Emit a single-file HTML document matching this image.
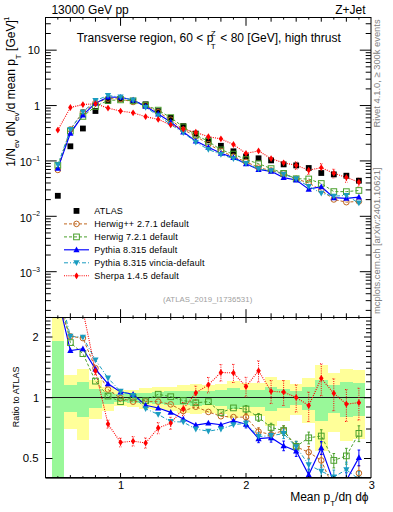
<!DOCTYPE html><html><head><meta charset="utf-8"><style>html,body{margin:0;padding:0;background:#fff;}svg{display:block;}text{font-family:"Liberation Sans",sans-serif;}</style></head><body>
<svg width="393" height="512" viewBox="0 0 393 512">
<defs><clipPath id="ct"><rect x="45.5" y="17.5" width="325.5" height="300.0"/></clipPath><clipPath id="cr"><rect x="45.5" y="317.5" width="325.5" height="160.0"/></clipPath></defs>
<g clip-path="url(#cr)" shape-rendering="crispEdges">
<rect x="51.55" y="300.00" width="12.55" height="700.00" fill="#ffff99"/>
<rect x="51.55" y="341.00" width="12.55" height="268.55" fill="#99f899"/>
<rect x="64.10" y="374.70" width="12.55" height="54.41" fill="#ffff99"/>
<rect x="64.10" y="385.40" width="12.55" height="26.73" fill="#99f899"/>
<rect x="76.64" y="369.20" width="12.55" height="71.17" fill="#ffff99"/>
<rect x="76.64" y="382.00" width="12.55" height="34.96" fill="#99f899"/>
<rect x="89.19" y="380.40" width="12.55" height="39.00" fill="#ffff99"/>
<rect x="89.19" y="388.50" width="12.55" height="19.59" fill="#99f899"/>
<rect x="101.73" y="386.50" width="12.55" height="24.16" fill="#ffff99"/>
<rect x="101.73" y="391.60" width="12.55" height="12.76" fill="#99f899"/>
<rect x="114.28" y="390.10" width="12.55" height="16.03" fill="#ffff99"/>
<rect x="114.28" y="393.70" width="12.55" height="8.30" fill="#99f899"/>
<rect x="126.82" y="389.60" width="12.55" height="17.14" fill="#ffff99"/>
<rect x="126.82" y="393.20" width="12.55" height="9.35" fill="#99f899"/>
<rect x="139.37" y="387.80" width="12.55" height="21.18" fill="#ffff99"/>
<rect x="139.37" y="392.50" width="12.55" height="10.83" fill="#99f899"/>
<rect x="151.91" y="387.10" width="12.55" height="22.78" fill="#ffff99"/>
<rect x="151.91" y="391.90" width="12.55" height="12.12" fill="#99f899"/>
<rect x="164.46" y="386.50" width="12.55" height="24.16" fill="#ffff99"/>
<rect x="164.46" y="391.40" width="12.55" height="13.20" fill="#99f899"/>
<rect x="177.00" y="385.10" width="12.55" height="27.44" fill="#ffff99"/>
<rect x="177.00" y="391.00" width="12.55" height="14.06" fill="#99f899"/>
<rect x="189.55" y="384.30" width="12.55" height="29.34" fill="#ffff99"/>
<rect x="189.55" y="390.50" width="12.55" height="15.15" fill="#99f899"/>
<rect x="202.09" y="385.10" width="12.55" height="27.44" fill="#ffff99"/>
<rect x="202.09" y="391.00" width="12.55" height="14.06" fill="#99f899"/>
<rect x="214.64" y="384.30" width="12.55" height="29.34" fill="#ffff99"/>
<rect x="214.64" y="390.00" width="12.55" height="16.25" fill="#99f899"/>
<rect x="227.18" y="381.00" width="12.55" height="37.48" fill="#ffff99"/>
<rect x="227.18" y="387.80" width="12.55" height="21.18" fill="#99f899"/>
<rect x="239.73" y="382.60" width="12.54" height="33.48" fill="#ffff99"/>
<rect x="239.73" y="389.70" width="12.54" height="16.91" fill="#99f899"/>
<rect x="252.27" y="382.60" width="12.54" height="33.48" fill="#ffff99"/>
<rect x="252.27" y="389.70" width="12.54" height="16.91" fill="#99f899"/>
<rect x="264.82" y="376.50" width="12.54" height="49.36" fill="#ffff99"/>
<rect x="264.82" y="386.60" width="12.54" height="23.93" fill="#99f899"/>
<rect x="277.36" y="379.50" width="12.54" height="41.33" fill="#ffff99"/>
<rect x="277.36" y="388.70" width="12.54" height="19.14" fill="#99f899"/>
<rect x="289.91" y="383.60" width="12.54" height="31.03" fill="#ffff99"/>
<rect x="289.91" y="390.70" width="12.54" height="14.72" fill="#99f899"/>
<rect x="302.45" y="377.90" width="12.54" height="45.55" fill="#ffff99"/>
<rect x="302.45" y="387.30" width="12.54" height="22.32" fill="#99f899"/>
<rect x="315.00" y="364.90" width="12.54" height="86.00" fill="#ffff99"/>
<rect x="315.00" y="379.70" width="12.54" height="40.81" fill="#99f899"/>
<rect x="327.54" y="373.40" width="12.54" height="58.18" fill="#ffff99"/>
<rect x="327.54" y="384.60" width="12.54" height="28.63" fill="#99f899"/>
<rect x="340.09" y="368.90" width="12.54" height="72.15" fill="#ffff99"/>
<rect x="340.09" y="381.90" width="12.54" height="35.21" fill="#99f899"/>
<rect x="352.63" y="369.80" width="12.54" height="69.23" fill="#ffff99"/>
<rect x="352.63" y="382.80" width="12.54" height="32.99" fill="#99f899"/>
</g>
<line x1="45.5" y1="397.5" x2="371.0" y2="397.5" stroke="#1a1a1a" stroke-width="1"/>
<g clip-path="url(#ct)">
<path d="M57.82,169.92L70.37,129.45L82.91,112.12L95.46,102.88L108.00,98.64L120.55,98.92L133.09,101.98L145.64,105.30L158.19,112.18L170.73,119.71L183.28,129.74L195.82,136.07L208.37,144.19L220.91,150.87L233.45,156.61L246.00,161.81L258.55,167.61L271.09,170.50L283.63,173.39L296.18,178.87L308.73,182.95L321.27,190.20L333.81,199.46L346.36,202.17L358.90,201.39" fill="none" stroke="#c0661e" stroke-width="1" stroke-dasharray="3,2"/>
<path d="M57.82,165.31L70.37,131.16L82.91,116.40L95.46,106.44L108.00,100.45L120.55,99.88L133.09,100.80L145.64,105.13L158.19,110.14L170.73,117.61L183.28,126.88L195.82,134.98L208.37,141.38L220.91,149.86L233.45,154.09L246.00,159.59L258.55,163.67L271.09,168.57L283.63,173.39L296.18,178.74L308.73,178.99L321.27,183.50L333.81,191.60L346.36,191.65L358.90,190.47" fill="none" stroke="#4aa02c" stroke-width="1" stroke-dasharray="3,2"/>
<path d="M57.82,168.36L70.37,133.36L82.91,115.07L95.46,103.12L108.00,97.06L120.55,97.20L133.09,99.94L145.64,106.37L158.19,113.92L170.73,121.90L183.28,131.93L195.82,141.10L208.37,147.25L220.91,153.20L233.45,157.62L246.00,163.77L258.55,169.52L271.09,171.35L283.63,177.58L296.18,179.99L308.73,189.15L321.27,186.72L333.81,197.68L346.36,198.35L358.90,197.12" fill="none" stroke="#0000ff" stroke-width="1.15"/>
<path d="M57.82,164.85L70.37,129.45L82.91,111.88L95.46,100.61L108.00,95.50L120.55,97.05L133.09,100.26L145.64,107.33L158.19,115.68L170.73,124.44L183.28,132.77L195.82,142.21L208.37,149.47L220.91,154.41L233.45,158.70L246.00,163.48L258.55,168.95L271.09,170.79L283.63,174.24L296.18,178.87L308.73,186.41L321.27,193.19L333.81,196.14L346.36,195.44L358.90,203.05" fill="none" stroke="#1a9cc0" stroke-width="1" stroke-dasharray="4,2,1,2"/>
<path d="M57.82,130.07L70.37,107.51L82.91,104.56L95.46,103.65L108.00,108.11L120.55,111.04L133.09,112.82L145.64,116.70L158.19,119.40L170.73,124.85L183.28,129.13L195.82,132.27L208.37,136.75L220.91,138.85L233.45,144.50L246.00,153.43L258.55,150.91L271.09,158.62L283.63,162.85L296.18,165.30L308.73,170.15L321.27,167.68L333.81,173.19L346.36,177.44L358.90,182.05" fill="none" stroke="#ff0000" stroke-width="1.1" stroke-dasharray="1,1.2"/>
<path d="M296.18,161.87V169.30M294.88,161.87H297.48M294.88,169.30H297.48M308.73,166.46V174.52M307.43,166.46H310.03M307.43,174.52H310.03M321.27,163.70V172.45M319.97,163.70H322.57M319.97,172.45H322.57M333.81,169.21V177.96M332.51,169.21H335.12M332.51,177.96H335.12M346.36,173.46V182.21M345.06,173.46H347.66M345.06,182.21H347.66M358.90,178.07V186.83M357.60,178.07H360.20M357.60,186.83H360.20" fill="none" stroke="#ff0000" stroke-width="1" stroke-dasharray="1,1.2"/>
<rect x="54.92" y="192.90" width="5.8" height="5.8" fill="#000"/>
<rect x="67.47" y="143.40" width="5.8" height="5.8" fill="#000"/>
<rect x="80.01" y="125.60" width="5.8" height="5.8" fill="#000"/>
<rect x="92.56" y="108.10" width="5.8" height="5.8" fill="#000"/>
<rect x="105.10" y="98.00" width="5.8" height="5.8" fill="#000"/>
<rect x="117.65" y="95.90" width="5.8" height="5.8" fill="#000"/>
<rect x="130.19" y="98.00" width="5.8" height="5.8" fill="#000"/>
<rect x="142.74" y="101.40" width="5.8" height="5.8" fill="#000"/>
<rect x="155.28" y="108.20" width="5.8" height="5.8" fill="#000"/>
<rect x="167.83" y="115.00" width="5.8" height="5.8" fill="#000"/>
<rect x="180.38" y="123.20" width="5.8" height="5.8" fill="#000"/>
<rect x="192.92" y="130.70" width="5.8" height="5.8" fill="#000"/>
<rect x="205.47" y="137.40" width="5.8" height="5.8" fill="#000"/>
<rect x="218.01" y="142.90" width="5.8" height="5.8" fill="#000"/>
<rect x="230.55" y="148.40" width="5.8" height="5.8" fill="#000"/>
<rect x="243.10" y="153.60" width="5.8" height="5.8" fill="#000"/>
<rect x="255.65" y="155.40" width="5.8" height="5.8" fill="#000"/>
<rect x="268.19" y="157.50" width="5.8" height="5.8" fill="#000"/>
<rect x="280.74" y="161.50" width="5.8" height="5.8" fill="#000"/>
<rect x="293.28" y="162.50" width="5.8" height="5.8" fill="#000"/>
<rect x="305.83" y="165.10" width="5.8" height="5.8" fill="#000"/>
<rect x="318.37" y="170.10" width="5.8" height="5.8" fill="#000"/>
<rect x="330.92" y="171.50" width="5.8" height="5.8" fill="#000"/>
<rect x="343.46" y="172.80" width="5.8" height="5.8" fill="#000"/>
<rect x="356.00" y="177.80" width="5.8" height="5.8" fill="#000"/>
<circle cx="57.82" cy="169.92" r="2.8" fill="none" stroke="#c0661e" stroke-width="1"/>
<circle cx="70.37" cy="129.45" r="2.8" fill="none" stroke="#c0661e" stroke-width="1"/>
<circle cx="82.91" cy="112.12" r="2.8" fill="none" stroke="#c0661e" stroke-width="1"/>
<circle cx="95.46" cy="102.88" r="2.8" fill="none" stroke="#c0661e" stroke-width="1"/>
<circle cx="108.00" cy="98.64" r="2.8" fill="none" stroke="#c0661e" stroke-width="1"/>
<circle cx="120.55" cy="98.92" r="2.8" fill="none" stroke="#c0661e" stroke-width="1"/>
<circle cx="133.09" cy="101.98" r="2.8" fill="none" stroke="#c0661e" stroke-width="1"/>
<circle cx="145.64" cy="105.30" r="2.8" fill="none" stroke="#c0661e" stroke-width="1"/>
<circle cx="158.19" cy="112.18" r="2.8" fill="none" stroke="#c0661e" stroke-width="1"/>
<circle cx="170.73" cy="119.71" r="2.8" fill="none" stroke="#c0661e" stroke-width="1"/>
<circle cx="183.28" cy="129.74" r="2.8" fill="none" stroke="#c0661e" stroke-width="1"/>
<circle cx="195.82" cy="136.07" r="2.8" fill="none" stroke="#c0661e" stroke-width="1"/>
<circle cx="208.37" cy="144.19" r="2.8" fill="none" stroke="#c0661e" stroke-width="1"/>
<circle cx="220.91" cy="150.87" r="2.8" fill="none" stroke="#c0661e" stroke-width="1"/>
<circle cx="233.45" cy="156.61" r="2.8" fill="none" stroke="#c0661e" stroke-width="1"/>
<circle cx="246.00" cy="161.81" r="2.8" fill="none" stroke="#c0661e" stroke-width="1"/>
<circle cx="258.55" cy="167.61" r="2.8" fill="none" stroke="#c0661e" stroke-width="1"/>
<circle cx="271.09" cy="170.50" r="2.8" fill="none" stroke="#c0661e" stroke-width="1"/>
<circle cx="283.63" cy="173.39" r="2.8" fill="none" stroke="#c0661e" stroke-width="1"/>
<circle cx="296.18" cy="178.87" r="2.8" fill="none" stroke="#c0661e" stroke-width="1"/>
<circle cx="308.73" cy="182.95" r="2.8" fill="none" stroke="#c0661e" stroke-width="1"/>
<circle cx="321.27" cy="190.20" r="2.8" fill="none" stroke="#c0661e" stroke-width="1"/>
<circle cx="333.81" cy="199.46" r="2.8" fill="none" stroke="#c0661e" stroke-width="1"/>
<circle cx="346.36" cy="202.17" r="2.8" fill="none" stroke="#c0661e" stroke-width="1"/>
<circle cx="358.90" cy="201.39" r="2.8" fill="none" stroke="#c0661e" stroke-width="1"/>
<rect x="54.97" y="162.46" width="5.7" height="5.7" fill="none" stroke="#4aa02c" stroke-width="1"/>
<rect x="67.52" y="128.31" width="5.7" height="5.7" fill="none" stroke="#4aa02c" stroke-width="1"/>
<rect x="80.06" y="113.55" width="5.7" height="5.7" fill="none" stroke="#4aa02c" stroke-width="1"/>
<rect x="92.61" y="103.59" width="5.7" height="5.7" fill="none" stroke="#4aa02c" stroke-width="1"/>
<rect x="105.16" y="97.60" width="5.7" height="5.7" fill="none" stroke="#4aa02c" stroke-width="1"/>
<rect x="117.70" y="97.03" width="5.7" height="5.7" fill="none" stroke="#4aa02c" stroke-width="1"/>
<rect x="130.25" y="97.95" width="5.7" height="5.7" fill="none" stroke="#4aa02c" stroke-width="1"/>
<rect x="142.79" y="102.28" width="5.7" height="5.7" fill="none" stroke="#4aa02c" stroke-width="1"/>
<rect x="155.34" y="107.29" width="5.7" height="5.7" fill="none" stroke="#4aa02c" stroke-width="1"/>
<rect x="167.88" y="114.76" width="5.7" height="5.7" fill="none" stroke="#4aa02c" stroke-width="1"/>
<rect x="180.43" y="124.03" width="5.7" height="5.7" fill="none" stroke="#4aa02c" stroke-width="1"/>
<rect x="192.97" y="132.13" width="5.7" height="5.7" fill="none" stroke="#4aa02c" stroke-width="1"/>
<rect x="205.52" y="138.53" width="5.7" height="5.7" fill="none" stroke="#4aa02c" stroke-width="1"/>
<rect x="218.06" y="147.01" width="5.7" height="5.7" fill="none" stroke="#4aa02c" stroke-width="1"/>
<rect x="230.60" y="151.24" width="5.7" height="5.7" fill="none" stroke="#4aa02c" stroke-width="1"/>
<rect x="243.15" y="156.74" width="5.7" height="5.7" fill="none" stroke="#4aa02c" stroke-width="1"/>
<rect x="255.70" y="160.82" width="5.7" height="5.7" fill="none" stroke="#4aa02c" stroke-width="1"/>
<rect x="268.24" y="165.72" width="5.7" height="5.7" fill="none" stroke="#4aa02c" stroke-width="1"/>
<rect x="280.78" y="170.54" width="5.7" height="5.7" fill="none" stroke="#4aa02c" stroke-width="1"/>
<rect x="293.33" y="175.89" width="5.7" height="5.7" fill="none" stroke="#4aa02c" stroke-width="1"/>
<rect x="305.88" y="176.14" width="5.7" height="5.7" fill="none" stroke="#4aa02c" stroke-width="1"/>
<rect x="318.42" y="180.65" width="5.7" height="5.7" fill="none" stroke="#4aa02c" stroke-width="1"/>
<rect x="330.96" y="188.75" width="5.7" height="5.7" fill="none" stroke="#4aa02c" stroke-width="1"/>
<rect x="343.51" y="188.80" width="5.7" height="5.7" fill="none" stroke="#4aa02c" stroke-width="1"/>
<rect x="356.05" y="187.62" width="5.7" height="5.7" fill="none" stroke="#4aa02c" stroke-width="1"/>
<path d="M57.82,165.06L60.92,170.86L54.72,170.86Z" fill="#0000ff"/>
<path d="M70.37,130.06L73.47,135.86L67.27,135.86Z" fill="#0000ff"/>
<path d="M82.91,111.77L86.01,117.57L79.81,117.57Z" fill="#0000ff"/>
<path d="M95.46,99.82L98.56,105.62L92.36,105.62Z" fill="#0000ff"/>
<path d="M108.00,93.76L111.10,99.56L104.91,99.56Z" fill="#0000ff"/>
<path d="M120.55,93.90L123.65,99.70L117.45,99.70Z" fill="#0000ff"/>
<path d="M133.09,96.64L136.19,102.44L130.00,102.44Z" fill="#0000ff"/>
<path d="M145.64,103.07L148.74,108.87L142.54,108.87Z" fill="#0000ff"/>
<path d="M158.19,110.62L161.28,116.42L155.09,116.42Z" fill="#0000ff"/>
<path d="M170.73,118.60L173.83,124.40L167.63,124.40Z" fill="#0000ff"/>
<path d="M183.28,128.63L186.38,134.43L180.18,134.43Z" fill="#0000ff"/>
<path d="M195.82,137.80L198.92,143.60L192.72,143.60Z" fill="#0000ff"/>
<path d="M208.37,143.95L211.47,149.75L205.27,149.75Z" fill="#0000ff"/>
<path d="M220.91,149.90L224.01,155.70L217.81,155.70Z" fill="#0000ff"/>
<path d="M233.45,154.32L236.55,160.12L230.35,160.12Z" fill="#0000ff"/>
<path d="M246.00,160.47L249.10,166.27L242.90,166.27Z" fill="#0000ff"/>
<path d="M258.55,166.22L261.65,172.02L255.45,172.02Z" fill="#0000ff"/>
<path d="M271.09,168.05L274.19,173.85L267.99,173.85Z" fill="#0000ff"/>
<path d="M283.63,174.28L286.74,180.08L280.53,180.08Z" fill="#0000ff"/>
<path d="M296.18,176.69L299.28,182.49L293.08,182.49Z" fill="#0000ff"/>
<path d="M308.73,185.85L311.83,191.65L305.62,191.65Z" fill="#0000ff"/>
<path d="M321.27,183.42L324.37,189.22L318.17,189.22Z" fill="#0000ff"/>
<path d="M333.81,194.38L336.92,200.18L330.71,200.18Z" fill="#0000ff"/>
<path d="M346.36,195.05L349.46,200.85L343.26,200.85Z" fill="#0000ff"/>
<path d="M358.90,193.82L362.00,199.62L355.80,199.62Z" fill="#0000ff"/>
<path d="M57.82,168.15L60.92,162.35L54.72,162.35Z" fill="#1a9cc0"/>
<path d="M70.37,132.75L73.47,126.95L67.27,126.95Z" fill="#1a9cc0"/>
<path d="M82.91,115.18L86.01,109.38L79.81,109.38Z" fill="#1a9cc0"/>
<path d="M95.46,103.91L98.56,98.11L92.36,98.11Z" fill="#1a9cc0"/>
<path d="M108.00,98.80L111.10,93.00L104.91,93.00Z" fill="#1a9cc0"/>
<path d="M120.55,100.35L123.65,94.55L117.45,94.55Z" fill="#1a9cc0"/>
<path d="M133.09,103.56L136.19,97.76L130.00,97.76Z" fill="#1a9cc0"/>
<path d="M145.64,110.63L148.74,104.83L142.54,104.83Z" fill="#1a9cc0"/>
<path d="M158.19,118.98L161.28,113.18L155.09,113.18Z" fill="#1a9cc0"/>
<path d="M170.73,127.74L173.83,121.94L167.63,121.94Z" fill="#1a9cc0"/>
<path d="M183.28,136.07L186.38,130.27L180.18,130.27Z" fill="#1a9cc0"/>
<path d="M195.82,145.51L198.92,139.71L192.72,139.71Z" fill="#1a9cc0"/>
<path d="M208.37,152.77L211.47,146.97L205.27,146.97Z" fill="#1a9cc0"/>
<path d="M220.91,157.71L224.01,151.91L217.81,151.91Z" fill="#1a9cc0"/>
<path d="M233.45,162.00L236.55,156.20L230.35,156.20Z" fill="#1a9cc0"/>
<path d="M246.00,166.78L249.10,160.98L242.90,160.98Z" fill="#1a9cc0"/>
<path d="M258.55,172.25L261.65,166.45L255.45,166.45Z" fill="#1a9cc0"/>
<path d="M271.09,174.09L274.19,168.29L267.99,168.29Z" fill="#1a9cc0"/>
<path d="M283.63,177.54L286.74,171.74L280.53,171.74Z" fill="#1a9cc0"/>
<path d="M296.18,182.17L299.28,176.37L293.08,176.37Z" fill="#1a9cc0"/>
<path d="M308.73,189.71L311.83,183.91L305.62,183.91Z" fill="#1a9cc0"/>
<path d="M321.27,196.49L324.37,190.69L318.17,190.69Z" fill="#1a9cc0"/>
<path d="M333.81,199.44L336.92,193.64L330.71,193.64Z" fill="#1a9cc0"/>
<path d="M346.36,198.74L349.46,192.94L343.26,192.94Z" fill="#1a9cc0"/>
<path d="M358.90,206.35L362.00,200.55L355.80,200.55Z" fill="#1a9cc0"/>
<path d="M57.82,126.67L60.07,130.07L57.82,133.47L55.57,130.07Z" fill="#ff0000"/>
<path d="M70.37,104.11L72.62,107.51L70.37,110.91L68.12,107.51Z" fill="#ff0000"/>
<path d="M82.91,101.16L85.16,104.56L82.91,107.96L80.66,104.56Z" fill="#ff0000"/>
<path d="M95.46,100.25L97.71,103.65L95.46,107.05L93.21,103.65Z" fill="#ff0000"/>
<path d="M108.00,104.71L110.25,108.11L108.00,111.51L105.75,108.11Z" fill="#ff0000"/>
<path d="M120.55,107.64L122.80,111.04L120.55,114.44L118.30,111.04Z" fill="#ff0000"/>
<path d="M133.09,109.42L135.34,112.82L133.09,116.22L130.84,112.82Z" fill="#ff0000"/>
<path d="M145.64,113.30L147.89,116.70L145.64,120.10L143.39,116.70Z" fill="#ff0000"/>
<path d="M158.19,116.00L160.44,119.40L158.19,122.80L155.94,119.40Z" fill="#ff0000"/>
<path d="M170.73,121.45L172.98,124.85L170.73,128.25L168.48,124.85Z" fill="#ff0000"/>
<path d="M183.28,125.73L185.53,129.13L183.28,132.53L181.03,129.13Z" fill="#ff0000"/>
<path d="M195.82,128.87L198.07,132.27L195.82,135.67L193.57,132.27Z" fill="#ff0000"/>
<path d="M208.37,133.35L210.62,136.75L208.37,140.15L206.12,136.75Z" fill="#ff0000"/>
<path d="M220.91,135.45L223.16,138.85L220.91,142.25L218.66,138.85Z" fill="#ff0000"/>
<path d="M233.45,141.10L235.70,144.50L233.45,147.90L231.20,144.50Z" fill="#ff0000"/>
<path d="M246.00,150.03L248.25,153.43L246.00,156.83L243.75,153.43Z" fill="#ff0000"/>
<path d="M258.55,147.51L260.80,150.91L258.55,154.31L256.30,150.91Z" fill="#ff0000"/>
<path d="M271.09,155.22L273.34,158.62L271.09,162.02L268.84,158.62Z" fill="#ff0000"/>
<path d="M283.63,159.45L285.88,162.85L283.63,166.25L281.38,162.85Z" fill="#ff0000"/>
<path d="M296.18,161.90L298.43,165.30L296.18,168.70L293.93,165.30Z" fill="#ff0000"/>
<path d="M308.73,166.75L310.98,170.15L308.73,173.55L306.48,170.15Z" fill="#ff0000"/>
<path d="M321.27,164.28L323.52,167.68L321.27,171.08L319.02,167.68Z" fill="#ff0000"/>
<path d="M333.81,169.79L336.06,173.19L333.81,176.59L331.56,173.19Z" fill="#ff0000"/>
<path d="M346.36,174.04L348.61,177.44L346.36,180.84L344.11,177.44Z" fill="#ff0000"/>
<path d="M358.90,178.65L361.15,182.05L358.90,185.45L356.65,182.05Z" fill="#ff0000"/>
</g>
<g clip-path="url(#cr)">
<path d="M57.82,303.44L70.37,336.34L82.91,338.07L95.46,368.18L108.00,389.52L120.55,398.19L133.09,401.67L145.64,401.40L158.19,401.67L170.73,404.36L183.28,411.01L195.82,406.74L208.37,411.92L220.91,416.24L233.45,417.11L246.00,417.11L258.55,431.66L271.09,434.55L283.63,430.51L296.18,446.83L308.73,452.21L321.27,460.42L333.81,489.08L346.36,494.22L358.90,473.16" fill="none" stroke="#c0661e" stroke-width="1" stroke-dasharray="3,2"/>
<path d="M57.82,286.63L70.37,342.57L82.91,353.64L95.46,381.13L108.00,396.11L120.55,401.67L133.09,397.40L145.64,400.76L158.19,394.24L170.73,396.71L183.28,400.58L195.82,402.77L208.37,401.67L220.91,412.54L233.45,407.91L246.00,409.00L258.55,417.32L271.09,427.51L283.63,430.51L296.18,446.37L308.73,437.80L321.27,436.02L333.81,460.42L346.36,455.88L358.90,433.36" fill="none" stroke="#4aa02c" stroke-width="1" stroke-dasharray="3,2"/>
<path d="M57.82,297.75L70.37,350.60L82.91,348.80L95.46,369.05L108.00,383.76L120.55,391.93L133.09,394.24L145.64,405.31L158.19,408.01L170.73,412.34L183.28,418.98L195.82,425.09L208.37,423.08L220.91,424.73L233.45,420.78L246.00,424.26L258.55,438.64L271.09,437.67L283.63,445.76L296.18,450.92L308.73,474.84L321.27,447.76L333.81,482.59L346.36,480.30L358.90,457.60" fill="none" stroke="#0000ff" stroke-width="1.15"/>
<path d="M57.82,284.95L70.37,336.34L82.91,337.20L95.46,359.90L108.00,378.09L120.55,391.36L133.09,395.43L145.64,408.80L158.19,414.42L170.73,421.58L183.28,422.04L195.82,429.12L208.37,431.15L220.91,429.12L233.45,424.73L246.00,423.20L258.55,436.57L271.09,435.62L283.63,433.62L296.18,446.83L308.73,464.84L321.27,471.31L333.81,476.98L346.36,469.69L358.90,479.18" fill="none" stroke="#1a9cc0" stroke-width="1" stroke-dasharray="4,2,1,2"/>
<path d="M57.82,158.24L70.37,256.41L82.91,310.49L95.46,370.95L108.00,424.02L120.55,442.35L133.09,441.19L145.64,442.93L158.19,428.01L170.73,423.08L183.28,408.80L195.82,392.91L208.37,384.81L220.91,372.44L233.45,372.96L246.00,386.56L258.55,370.82L271.09,391.28L283.63,392.09L296.18,397.40L308.73,405.59L321.27,378.37L333.81,393.33L346.36,404.08L358.90,402.68" fill="none" stroke="#ff0000" stroke-width="1.1" stroke-dasharray="1,1.2"/>
<path d="M246.00,413.60V420.75M244.70,413.60H247.30M244.70,420.75H247.30M258.55,427.80V435.71M257.25,427.80H259.85M257.25,435.71H259.85M271.09,430.29V439.02M269.79,430.29H272.39M269.79,439.02H272.39M283.63,425.82V435.47M282.33,425.82H284.94M282.33,435.47H284.94M296.18,441.66V452.33M294.88,441.66H297.48M294.88,452.33H297.48M308.73,446.51V458.31M307.43,446.51H310.03M307.43,458.31H310.03M321.27,454.14V467.19M319.97,454.14H322.57M319.97,467.19H322.57M333.81,482.16V496.58M332.51,482.16H335.12M332.51,496.58H335.12M346.36,486.66V502.48M345.06,486.66H347.66M345.06,502.48H347.66M358.90,465.60V481.42M357.60,465.60H360.20M357.60,481.42H360.20" fill="none" stroke="#c0661e" stroke-width="1"/>
<path d="M246.00,405.49V412.65M244.70,405.49H247.30M244.70,412.65H247.30M258.55,413.46V421.37M257.25,413.46H259.85M257.25,421.37H259.85M271.09,423.25V431.99M269.79,423.25H272.39M269.79,431.99H272.39M283.63,425.82V435.47M282.33,425.82H284.94M282.33,435.47H284.94M296.18,441.20V451.87M294.88,441.20H297.48M294.88,451.87H297.48M308.73,432.10V443.90M307.43,432.10H310.03M307.43,443.90H310.03M321.27,429.74V442.79M319.97,429.74H322.57M319.97,442.79H322.57M333.81,453.51V467.93M332.51,453.51H335.12M332.51,467.93H335.12M346.36,448.33V464.15M345.06,448.33H347.66M345.06,464.15H347.66M358.90,425.80V441.62M357.60,425.80H360.20M357.60,441.62H360.20" fill="none" stroke="#4aa02c" stroke-width="1"/>
<path d="M246.00,420.76V427.91M244.70,420.76H247.30M244.70,427.91H247.30M258.55,434.77V442.68M257.25,434.77H259.85M257.25,442.68H259.85M271.09,433.41V442.14M269.79,433.41H272.39M269.79,442.14H272.39M283.63,441.07V450.73M282.33,441.07H284.94M282.33,450.73H284.94M296.18,445.74V456.42M294.88,445.74H297.48M294.88,456.42H297.48M308.73,469.13V480.93M307.43,469.13H310.03M307.43,480.93H310.03M321.27,441.48V454.52M319.97,441.48H322.57M319.97,454.52H322.57M333.81,475.67V490.09M332.51,475.67H335.12M332.51,490.09H335.12M346.36,472.75V488.57M345.06,472.75H347.66M345.06,488.57H347.66M358.90,450.05V465.87M357.60,450.05H360.20M357.60,465.87H360.20" fill="none" stroke="#0000ff" stroke-width="1"/>
<path d="M246.00,419.70V426.85M244.70,419.70H247.30M244.70,426.85H247.30M258.55,432.71V440.61M257.25,432.71H259.85M257.25,440.61H259.85M271.09,431.36V440.10M269.79,431.36H272.39M269.79,440.10H272.39M283.63,428.92V438.58M282.33,428.92H284.94M282.33,438.58H284.94M296.18,441.66V452.33M294.88,441.66H297.48M294.88,452.33H297.48M308.73,459.14V470.94M307.43,459.14H310.03M307.43,470.94H310.03M321.27,465.03V478.07M319.97,465.03H322.57M319.97,478.07H322.57M333.81,470.06V484.49M332.51,470.06H335.12M332.51,484.49H335.12M346.36,462.14V477.96M345.06,462.14H347.66M345.06,477.96H347.66M358.90,471.63V487.44M357.60,471.63H360.20M357.60,487.44H360.20" fill="none" stroke="#1a9cc0" stroke-width="1"/>
<path d="M95.46,367.29V374.77M94.16,367.29H96.76M94.16,374.77H96.76M108.00,420.07V428.16M106.70,420.07H109.30M106.70,428.16H109.30M120.55,438.07V446.84M119.25,438.07H121.85M119.25,446.84H121.85M133.09,436.57V446.07M131.79,436.57H134.40M131.79,446.07H134.40M145.64,437.93V448.23M144.34,437.93H146.94M144.34,448.23H146.94M158.19,422.60V433.76M156.88,422.60H159.49M156.88,433.76H159.49M170.73,417.25V429.34M169.43,417.25H172.03M169.43,429.34H172.03M183.28,402.49V415.59M181.97,402.49H184.58M181.97,415.59H184.58M195.82,386.10V400.30M194.52,386.10H197.12M194.52,400.30H197.12M208.37,377.46V392.84M207.06,377.46H209.67M207.06,392.84H209.67M220.91,364.50V381.17M219.61,364.50H222.21M219.61,381.17H222.21M233.45,364.39V382.46M232.15,364.39H234.75M232.15,382.46H234.75M246.00,377.31V396.89M244.70,377.31H247.30M244.70,396.89H247.30M258.55,360.85V382.08M257.25,360.85H259.85M257.25,382.08H259.85M271.09,380.52V403.55M269.79,380.52H272.39M269.79,403.55H272.39M283.63,380.50V405.46M282.33,380.50H284.94M282.33,405.46H284.94M296.18,384.90V411.98M294.88,384.90H297.48M294.88,411.98H297.48M308.73,392.13V421.50M307.43,392.13H310.03M307.43,421.50H310.03M321.27,363.87V395.74M319.97,363.87H322.57M319.97,395.74H322.57M333.81,378.82V410.72M332.51,378.82H335.12M332.51,410.72H335.12M346.36,389.57V421.47M345.06,389.57H347.66M345.06,421.47H347.66M358.90,388.18V420.07M357.60,388.18H360.20M357.60,420.07H360.20" fill="none" stroke="#ff0000" stroke-width="1" stroke-dasharray="1,1.2"/>
<circle cx="57.82" cy="303.44" r="2.8" fill="none" stroke="#c0661e" stroke-width="1"/>
<circle cx="70.37" cy="336.34" r="2.8" fill="none" stroke="#c0661e" stroke-width="1"/>
<circle cx="82.91" cy="338.07" r="2.8" fill="none" stroke="#c0661e" stroke-width="1"/>
<circle cx="95.46" cy="368.18" r="2.8" fill="none" stroke="#c0661e" stroke-width="1"/>
<circle cx="108.00" cy="389.52" r="2.8" fill="none" stroke="#c0661e" stroke-width="1"/>
<circle cx="120.55" cy="398.19" r="2.8" fill="none" stroke="#c0661e" stroke-width="1"/>
<circle cx="133.09" cy="401.67" r="2.8" fill="none" stroke="#c0661e" stroke-width="1"/>
<circle cx="145.64" cy="401.40" r="2.8" fill="none" stroke="#c0661e" stroke-width="1"/>
<circle cx="158.19" cy="401.67" r="2.8" fill="none" stroke="#c0661e" stroke-width="1"/>
<circle cx="170.73" cy="404.36" r="2.8" fill="none" stroke="#c0661e" stroke-width="1"/>
<circle cx="183.28" cy="411.01" r="2.8" fill="none" stroke="#c0661e" stroke-width="1"/>
<circle cx="195.82" cy="406.74" r="2.8" fill="none" stroke="#c0661e" stroke-width="1"/>
<circle cx="208.37" cy="411.92" r="2.8" fill="none" stroke="#c0661e" stroke-width="1"/>
<circle cx="220.91" cy="416.24" r="2.8" fill="none" stroke="#c0661e" stroke-width="1"/>
<circle cx="233.45" cy="417.11" r="2.8" fill="none" stroke="#c0661e" stroke-width="1"/>
<circle cx="246.00" cy="417.11" r="2.8" fill="none" stroke="#c0661e" stroke-width="1"/>
<circle cx="258.55" cy="431.66" r="2.8" fill="none" stroke="#c0661e" stroke-width="1"/>
<circle cx="271.09" cy="434.55" r="2.8" fill="none" stroke="#c0661e" stroke-width="1"/>
<circle cx="283.63" cy="430.51" r="2.8" fill="none" stroke="#c0661e" stroke-width="1"/>
<circle cx="296.18" cy="446.83" r="2.8" fill="none" stroke="#c0661e" stroke-width="1"/>
<circle cx="308.73" cy="452.21" r="2.8" fill="none" stroke="#c0661e" stroke-width="1"/>
<circle cx="321.27" cy="460.42" r="2.8" fill="none" stroke="#c0661e" stroke-width="1"/>
<circle cx="333.81" cy="489.08" r="2.8" fill="none" stroke="#c0661e" stroke-width="1"/>
<circle cx="346.36" cy="494.22" r="2.8" fill="none" stroke="#c0661e" stroke-width="1"/>
<circle cx="358.90" cy="473.16" r="2.8" fill="none" stroke="#c0661e" stroke-width="1"/>
<rect x="54.97" y="283.78" width="5.7" height="5.7" fill="none" stroke="#4aa02c" stroke-width="1"/>
<rect x="67.52" y="339.72" width="5.7" height="5.7" fill="none" stroke="#4aa02c" stroke-width="1"/>
<rect x="80.06" y="350.79" width="5.7" height="5.7" fill="none" stroke="#4aa02c" stroke-width="1"/>
<rect x="92.61" y="378.28" width="5.7" height="5.7" fill="none" stroke="#4aa02c" stroke-width="1"/>
<rect x="105.16" y="393.26" width="5.7" height="5.7" fill="none" stroke="#4aa02c" stroke-width="1"/>
<rect x="117.70" y="398.82" width="5.7" height="5.7" fill="none" stroke="#4aa02c" stroke-width="1"/>
<rect x="130.25" y="394.55" width="5.7" height="5.7" fill="none" stroke="#4aa02c" stroke-width="1"/>
<rect x="142.79" y="397.91" width="5.7" height="5.7" fill="none" stroke="#4aa02c" stroke-width="1"/>
<rect x="155.34" y="391.39" width="5.7" height="5.7" fill="none" stroke="#4aa02c" stroke-width="1"/>
<rect x="167.88" y="393.86" width="5.7" height="5.7" fill="none" stroke="#4aa02c" stroke-width="1"/>
<rect x="180.43" y="397.73" width="5.7" height="5.7" fill="none" stroke="#4aa02c" stroke-width="1"/>
<rect x="192.97" y="399.92" width="5.7" height="5.7" fill="none" stroke="#4aa02c" stroke-width="1"/>
<rect x="205.52" y="398.82" width="5.7" height="5.7" fill="none" stroke="#4aa02c" stroke-width="1"/>
<rect x="218.06" y="409.69" width="5.7" height="5.7" fill="none" stroke="#4aa02c" stroke-width="1"/>
<rect x="230.60" y="405.06" width="5.7" height="5.7" fill="none" stroke="#4aa02c" stroke-width="1"/>
<rect x="243.15" y="406.15" width="5.7" height="5.7" fill="none" stroke="#4aa02c" stroke-width="1"/>
<rect x="255.70" y="414.47" width="5.7" height="5.7" fill="none" stroke="#4aa02c" stroke-width="1"/>
<rect x="268.24" y="424.66" width="5.7" height="5.7" fill="none" stroke="#4aa02c" stroke-width="1"/>
<rect x="280.78" y="427.66" width="5.7" height="5.7" fill="none" stroke="#4aa02c" stroke-width="1"/>
<rect x="293.33" y="443.52" width="5.7" height="5.7" fill="none" stroke="#4aa02c" stroke-width="1"/>
<rect x="305.88" y="434.95" width="5.7" height="5.7" fill="none" stroke="#4aa02c" stroke-width="1"/>
<rect x="318.42" y="433.17" width="5.7" height="5.7" fill="none" stroke="#4aa02c" stroke-width="1"/>
<rect x="330.96" y="457.57" width="5.7" height="5.7" fill="none" stroke="#4aa02c" stroke-width="1"/>
<rect x="343.51" y="453.03" width="5.7" height="5.7" fill="none" stroke="#4aa02c" stroke-width="1"/>
<rect x="356.05" y="430.51" width="5.7" height="5.7" fill="none" stroke="#4aa02c" stroke-width="1"/>
<path d="M57.82,294.45L60.92,300.25L54.72,300.25Z" fill="#0000ff"/>
<path d="M70.37,347.30L73.47,353.10L67.27,353.10Z" fill="#0000ff"/>
<path d="M82.91,345.50L86.01,351.30L79.81,351.30Z" fill="#0000ff"/>
<path d="M95.46,365.75L98.56,371.55L92.36,371.55Z" fill="#0000ff"/>
<path d="M108.00,380.46L111.10,386.26L104.91,386.26Z" fill="#0000ff"/>
<path d="M120.55,388.63L123.65,394.43L117.45,394.43Z" fill="#0000ff"/>
<path d="M133.09,390.94L136.19,396.74L130.00,396.74Z" fill="#0000ff"/>
<path d="M145.64,402.01L148.74,407.81L142.54,407.81Z" fill="#0000ff"/>
<path d="M158.19,404.71L161.28,410.51L155.09,410.51Z" fill="#0000ff"/>
<path d="M170.73,409.04L173.83,414.84L167.63,414.84Z" fill="#0000ff"/>
<path d="M183.28,415.68L186.38,421.48L180.18,421.48Z" fill="#0000ff"/>
<path d="M195.82,421.79L198.92,427.59L192.72,427.59Z" fill="#0000ff"/>
<path d="M208.37,419.78L211.47,425.58L205.27,425.58Z" fill="#0000ff"/>
<path d="M220.91,421.43L224.01,427.23L217.81,427.23Z" fill="#0000ff"/>
<path d="M233.45,417.48L236.55,423.28L230.35,423.28Z" fill="#0000ff"/>
<path d="M246.00,420.96L249.10,426.76L242.90,426.76Z" fill="#0000ff"/>
<path d="M258.55,435.34L261.65,441.14L255.45,441.14Z" fill="#0000ff"/>
<path d="M271.09,434.37L274.19,440.17L267.99,440.17Z" fill="#0000ff"/>
<path d="M283.63,442.46L286.74,448.26L280.53,448.26Z" fill="#0000ff"/>
<path d="M296.18,447.62L299.28,453.42L293.08,453.42Z" fill="#0000ff"/>
<path d="M308.73,471.54L311.83,477.34L305.62,477.34Z" fill="#0000ff"/>
<path d="M321.27,444.46L324.37,450.26L318.17,450.26Z" fill="#0000ff"/>
<path d="M333.81,479.29L336.92,485.09L330.71,485.09Z" fill="#0000ff"/>
<path d="M346.36,477.00L349.46,482.80L343.26,482.80Z" fill="#0000ff"/>
<path d="M358.90,454.30L362.00,460.10L355.80,460.10Z" fill="#0000ff"/>
<path d="M57.82,288.25L60.92,282.45L54.72,282.45Z" fill="#1a9cc0"/>
<path d="M70.37,339.64L73.47,333.84L67.27,333.84Z" fill="#1a9cc0"/>
<path d="M82.91,340.50L86.01,334.70L79.81,334.70Z" fill="#1a9cc0"/>
<path d="M95.46,363.20L98.56,357.40L92.36,357.40Z" fill="#1a9cc0"/>
<path d="M108.00,381.39L111.10,375.59L104.91,375.59Z" fill="#1a9cc0"/>
<path d="M120.55,394.66L123.65,388.86L117.45,388.86Z" fill="#1a9cc0"/>
<path d="M133.09,398.73L136.19,392.93L130.00,392.93Z" fill="#1a9cc0"/>
<path d="M145.64,412.10L148.74,406.30L142.54,406.30Z" fill="#1a9cc0"/>
<path d="M158.19,417.72L161.28,411.92L155.09,411.92Z" fill="#1a9cc0"/>
<path d="M170.73,424.88L173.83,419.08L167.63,419.08Z" fill="#1a9cc0"/>
<path d="M183.28,425.34L186.38,419.54L180.18,419.54Z" fill="#1a9cc0"/>
<path d="M195.82,432.42L198.92,426.62L192.72,426.62Z" fill="#1a9cc0"/>
<path d="M208.37,434.45L211.47,428.65L205.27,428.65Z" fill="#1a9cc0"/>
<path d="M220.91,432.42L224.01,426.62L217.81,426.62Z" fill="#1a9cc0"/>
<path d="M233.45,428.03L236.55,422.23L230.35,422.23Z" fill="#1a9cc0"/>
<path d="M246.00,426.50L249.10,420.70L242.90,420.70Z" fill="#1a9cc0"/>
<path d="M258.55,439.87L261.65,434.07L255.45,434.07Z" fill="#1a9cc0"/>
<path d="M271.09,438.92L274.19,433.12L267.99,433.12Z" fill="#1a9cc0"/>
<path d="M283.63,436.92L286.74,431.12L280.53,431.12Z" fill="#1a9cc0"/>
<path d="M296.18,450.13L299.28,444.33L293.08,444.33Z" fill="#1a9cc0"/>
<path d="M308.73,468.14L311.83,462.34L305.62,462.34Z" fill="#1a9cc0"/>
<path d="M321.27,474.61L324.37,468.81L318.17,468.81Z" fill="#1a9cc0"/>
<path d="M333.81,480.28L336.92,474.48L330.71,474.48Z" fill="#1a9cc0"/>
<path d="M346.36,472.99L349.46,467.19L343.26,467.19Z" fill="#1a9cc0"/>
<path d="M358.90,482.48L362.00,476.68L355.80,476.68Z" fill="#1a9cc0"/>
<path d="M57.82,154.84L60.07,158.24L57.82,161.64L55.57,158.24Z" fill="#ff0000"/>
<path d="M70.37,253.01L72.62,256.41L70.37,259.81L68.12,256.41Z" fill="#ff0000"/>
<path d="M82.91,307.09L85.16,310.49L82.91,313.89L80.66,310.49Z" fill="#ff0000"/>
<path d="M95.46,367.55L97.71,370.95L95.46,374.35L93.21,370.95Z" fill="#ff0000"/>
<path d="M108.00,420.62L110.25,424.02L108.00,427.42L105.75,424.02Z" fill="#ff0000"/>
<path d="M120.55,438.95L122.80,442.35L120.55,445.75L118.30,442.35Z" fill="#ff0000"/>
<path d="M133.09,437.79L135.34,441.19L133.09,444.59L130.84,441.19Z" fill="#ff0000"/>
<path d="M145.64,439.53L147.89,442.93L145.64,446.33L143.39,442.93Z" fill="#ff0000"/>
<path d="M158.19,424.61L160.44,428.01L158.19,431.41L155.94,428.01Z" fill="#ff0000"/>
<path d="M170.73,419.68L172.98,423.08L170.73,426.48L168.48,423.08Z" fill="#ff0000"/>
<path d="M183.28,405.40L185.53,408.80L183.28,412.20L181.03,408.80Z" fill="#ff0000"/>
<path d="M195.82,389.51L198.07,392.91L195.82,396.31L193.57,392.91Z" fill="#ff0000"/>
<path d="M208.37,381.41L210.62,384.81L208.37,388.21L206.12,384.81Z" fill="#ff0000"/>
<path d="M220.91,369.04L223.16,372.44L220.91,375.84L218.66,372.44Z" fill="#ff0000"/>
<path d="M233.45,369.56L235.70,372.96L233.45,376.36L231.20,372.96Z" fill="#ff0000"/>
<path d="M246.00,383.16L248.25,386.56L246.00,389.96L243.75,386.56Z" fill="#ff0000"/>
<path d="M258.55,367.42L260.80,370.82L258.55,374.22L256.30,370.82Z" fill="#ff0000"/>
<path d="M271.09,387.88L273.34,391.28L271.09,394.68L268.84,391.28Z" fill="#ff0000"/>
<path d="M283.63,388.69L285.88,392.09L283.63,395.49L281.38,392.09Z" fill="#ff0000"/>
<path d="M296.18,394.00L298.43,397.40L296.18,400.80L293.93,397.40Z" fill="#ff0000"/>
<path d="M308.73,402.19L310.98,405.59L308.73,408.99L306.48,405.59Z" fill="#ff0000"/>
<path d="M321.27,374.97L323.52,378.37L321.27,381.77L319.02,378.37Z" fill="#ff0000"/>
<path d="M333.81,389.93L336.06,393.33L333.81,396.73L331.56,393.33Z" fill="#ff0000"/>
<path d="M346.36,400.68L348.61,404.08L346.36,407.48L344.11,404.08Z" fill="#ff0000"/>
<path d="M358.90,399.28L361.15,402.68L358.90,406.08L356.65,402.68Z" fill="#ff0000"/>
</g>
<g stroke="#000" stroke-width="1" fill="none">
<line x1="45.50" y1="310.40" x2="50.80" y2="310.40"/>
<line x1="371.00" y1="310.40" x2="365.70" y2="310.40"/>
<line x1="45.50" y1="300.65" x2="50.80" y2="300.65"/>
<line x1="371.00" y1="300.65" x2="365.70" y2="300.65"/>
<line x1="45.50" y1="293.73" x2="50.80" y2="293.73"/>
<line x1="371.00" y1="293.73" x2="365.70" y2="293.73"/>
<line x1="45.50" y1="288.36" x2="50.80" y2="288.36"/>
<line x1="371.00" y1="288.36" x2="365.70" y2="288.36"/>
<line x1="45.50" y1="283.98" x2="50.80" y2="283.98"/>
<line x1="371.00" y1="283.98" x2="365.70" y2="283.98"/>
<line x1="45.50" y1="280.27" x2="50.80" y2="280.27"/>
<line x1="371.00" y1="280.27" x2="365.70" y2="280.27"/>
<line x1="45.50" y1="277.06" x2="50.80" y2="277.06"/>
<line x1="371.00" y1="277.06" x2="365.70" y2="277.06"/>
<line x1="45.50" y1="274.22" x2="50.80" y2="274.22"/>
<line x1="371.00" y1="274.22" x2="365.70" y2="274.22"/>
<line x1="45.50" y1="271.69" x2="56.70" y2="271.69"/>
<line x1="371.00" y1="271.69" x2="359.80" y2="271.69"/>
<line x1="45.50" y1="255.02" x2="50.80" y2="255.02"/>
<line x1="371.00" y1="255.02" x2="365.70" y2="255.02"/>
<line x1="45.50" y1="245.27" x2="50.80" y2="245.27"/>
<line x1="371.00" y1="245.27" x2="365.70" y2="245.27"/>
<line x1="45.50" y1="238.35" x2="50.80" y2="238.35"/>
<line x1="371.00" y1="238.35" x2="365.70" y2="238.35"/>
<line x1="45.50" y1="232.98" x2="50.80" y2="232.98"/>
<line x1="371.00" y1="232.98" x2="365.70" y2="232.98"/>
<line x1="45.50" y1="228.60" x2="50.80" y2="228.60"/>
<line x1="371.00" y1="228.60" x2="365.70" y2="228.60"/>
<line x1="45.50" y1="224.89" x2="50.80" y2="224.89"/>
<line x1="371.00" y1="224.89" x2="365.70" y2="224.89"/>
<line x1="45.50" y1="221.68" x2="50.80" y2="221.68"/>
<line x1="371.00" y1="221.68" x2="365.70" y2="221.68"/>
<line x1="45.50" y1="218.84" x2="50.80" y2="218.84"/>
<line x1="371.00" y1="218.84" x2="365.70" y2="218.84"/>
<line x1="45.50" y1="216.31" x2="56.70" y2="216.31"/>
<line x1="371.00" y1="216.31" x2="359.80" y2="216.31"/>
<line x1="45.50" y1="199.64" x2="50.80" y2="199.64"/>
<line x1="371.00" y1="199.64" x2="365.70" y2="199.64"/>
<line x1="45.50" y1="189.89" x2="50.80" y2="189.89"/>
<line x1="371.00" y1="189.89" x2="365.70" y2="189.89"/>
<line x1="45.50" y1="182.97" x2="50.80" y2="182.97"/>
<line x1="371.00" y1="182.97" x2="365.70" y2="182.97"/>
<line x1="45.50" y1="177.60" x2="50.80" y2="177.60"/>
<line x1="371.00" y1="177.60" x2="365.70" y2="177.60"/>
<line x1="45.50" y1="173.22" x2="50.80" y2="173.22"/>
<line x1="371.00" y1="173.22" x2="365.70" y2="173.22"/>
<line x1="45.50" y1="169.51" x2="50.80" y2="169.51"/>
<line x1="371.00" y1="169.51" x2="365.70" y2="169.51"/>
<line x1="45.50" y1="166.30" x2="50.80" y2="166.30"/>
<line x1="371.00" y1="166.30" x2="365.70" y2="166.30"/>
<line x1="45.50" y1="163.46" x2="50.80" y2="163.46"/>
<line x1="371.00" y1="163.46" x2="365.70" y2="163.46"/>
<line x1="45.50" y1="160.93" x2="56.70" y2="160.93"/>
<line x1="371.00" y1="160.93" x2="359.80" y2="160.93"/>
<line x1="45.50" y1="144.26" x2="50.80" y2="144.26"/>
<line x1="371.00" y1="144.26" x2="365.70" y2="144.26"/>
<line x1="45.50" y1="134.51" x2="50.80" y2="134.51"/>
<line x1="371.00" y1="134.51" x2="365.70" y2="134.51"/>
<line x1="45.50" y1="127.59" x2="50.80" y2="127.59"/>
<line x1="371.00" y1="127.59" x2="365.70" y2="127.59"/>
<line x1="45.50" y1="122.22" x2="50.80" y2="122.22"/>
<line x1="371.00" y1="122.22" x2="365.70" y2="122.22"/>
<line x1="45.50" y1="117.84" x2="50.80" y2="117.84"/>
<line x1="371.00" y1="117.84" x2="365.70" y2="117.84"/>
<line x1="45.50" y1="114.13" x2="50.80" y2="114.13"/>
<line x1="371.00" y1="114.13" x2="365.70" y2="114.13"/>
<line x1="45.50" y1="110.92" x2="50.80" y2="110.92"/>
<line x1="371.00" y1="110.92" x2="365.70" y2="110.92"/>
<line x1="45.50" y1="108.08" x2="50.80" y2="108.08"/>
<line x1="371.00" y1="108.08" x2="365.70" y2="108.08"/>
<line x1="45.50" y1="105.55" x2="56.70" y2="105.55"/>
<line x1="371.00" y1="105.55" x2="359.80" y2="105.55"/>
<line x1="45.50" y1="88.88" x2="50.80" y2="88.88"/>
<line x1="371.00" y1="88.88" x2="365.70" y2="88.88"/>
<line x1="45.50" y1="79.13" x2="50.80" y2="79.13"/>
<line x1="371.00" y1="79.13" x2="365.70" y2="79.13"/>
<line x1="45.50" y1="72.21" x2="50.80" y2="72.21"/>
<line x1="371.00" y1="72.21" x2="365.70" y2="72.21"/>
<line x1="45.50" y1="66.84" x2="50.80" y2="66.84"/>
<line x1="371.00" y1="66.84" x2="365.70" y2="66.84"/>
<line x1="45.50" y1="62.46" x2="50.80" y2="62.46"/>
<line x1="371.00" y1="62.46" x2="365.70" y2="62.46"/>
<line x1="45.50" y1="58.75" x2="50.80" y2="58.75"/>
<line x1="371.00" y1="58.75" x2="365.70" y2="58.75"/>
<line x1="45.50" y1="55.54" x2="50.80" y2="55.54"/>
<line x1="371.00" y1="55.54" x2="365.70" y2="55.54"/>
<line x1="45.50" y1="52.70" x2="50.80" y2="52.70"/>
<line x1="371.00" y1="52.70" x2="365.70" y2="52.70"/>
<line x1="45.50" y1="50.17" x2="56.70" y2="50.17"/>
<line x1="371.00" y1="50.17" x2="359.80" y2="50.17"/>
<line x1="45.50" y1="33.50" x2="50.80" y2="33.50"/>
<line x1="371.00" y1="33.50" x2="365.70" y2="33.50"/>
<line x1="45.50" y1="23.75" x2="50.80" y2="23.75"/>
<line x1="371.00" y1="23.75" x2="365.70" y2="23.75"/>
<line x1="57.82" y1="17.50" x2="57.82" y2="19.60"/>
<line x1="57.82" y1="317.50" x2="57.82" y2="315.40"/>
<line x1="57.82" y1="317.50" x2="57.82" y2="318.80"/>
<line x1="57.82" y1="477.50" x2="57.82" y2="476.20"/>
<line x1="70.37" y1="17.50" x2="70.37" y2="21.70"/>
<line x1="70.37" y1="317.50" x2="70.37" y2="313.30"/>
<line x1="70.37" y1="317.50" x2="70.37" y2="319.90"/>
<line x1="70.37" y1="477.50" x2="70.37" y2="475.10"/>
<line x1="82.91" y1="17.50" x2="82.91" y2="19.60"/>
<line x1="82.91" y1="317.50" x2="82.91" y2="315.40"/>
<line x1="82.91" y1="317.50" x2="82.91" y2="318.80"/>
<line x1="82.91" y1="477.50" x2="82.91" y2="476.20"/>
<line x1="95.46" y1="17.50" x2="95.46" y2="21.70"/>
<line x1="95.46" y1="317.50" x2="95.46" y2="313.30"/>
<line x1="95.46" y1="317.50" x2="95.46" y2="319.90"/>
<line x1="95.46" y1="477.50" x2="95.46" y2="475.10"/>
<line x1="108.00" y1="17.50" x2="108.00" y2="19.60"/>
<line x1="108.00" y1="317.50" x2="108.00" y2="315.40"/>
<line x1="108.00" y1="317.50" x2="108.00" y2="318.80"/>
<line x1="108.00" y1="477.50" x2="108.00" y2="476.20"/>
<line x1="120.55" y1="17.50" x2="120.55" y2="25.80"/>
<line x1="120.55" y1="317.50" x2="120.55" y2="309.20"/>
<line x1="120.55" y1="317.50" x2="120.55" y2="322.90"/>
<line x1="120.55" y1="477.50" x2="120.55" y2="473.00"/>
<line x1="133.09" y1="17.50" x2="133.09" y2="19.60"/>
<line x1="133.09" y1="317.50" x2="133.09" y2="315.40"/>
<line x1="133.09" y1="317.50" x2="133.09" y2="318.80"/>
<line x1="133.09" y1="477.50" x2="133.09" y2="476.20"/>
<line x1="145.64" y1="17.50" x2="145.64" y2="21.70"/>
<line x1="145.64" y1="317.50" x2="145.64" y2="313.30"/>
<line x1="145.64" y1="317.50" x2="145.64" y2="319.90"/>
<line x1="145.64" y1="477.50" x2="145.64" y2="475.10"/>
<line x1="158.19" y1="17.50" x2="158.19" y2="19.60"/>
<line x1="158.19" y1="317.50" x2="158.19" y2="315.40"/>
<line x1="158.19" y1="317.50" x2="158.19" y2="318.80"/>
<line x1="158.19" y1="477.50" x2="158.19" y2="476.20"/>
<line x1="170.73" y1="17.50" x2="170.73" y2="21.70"/>
<line x1="170.73" y1="317.50" x2="170.73" y2="313.30"/>
<line x1="170.73" y1="317.50" x2="170.73" y2="319.90"/>
<line x1="170.73" y1="477.50" x2="170.73" y2="475.10"/>
<line x1="183.28" y1="17.50" x2="183.28" y2="19.60"/>
<line x1="183.28" y1="317.50" x2="183.28" y2="315.40"/>
<line x1="183.28" y1="317.50" x2="183.28" y2="318.80"/>
<line x1="183.28" y1="477.50" x2="183.28" y2="476.20"/>
<line x1="195.82" y1="17.50" x2="195.82" y2="21.70"/>
<line x1="195.82" y1="317.50" x2="195.82" y2="313.30"/>
<line x1="195.82" y1="317.50" x2="195.82" y2="319.90"/>
<line x1="195.82" y1="477.50" x2="195.82" y2="475.10"/>
<line x1="208.37" y1="17.50" x2="208.37" y2="19.60"/>
<line x1="208.37" y1="317.50" x2="208.37" y2="315.40"/>
<line x1="208.37" y1="317.50" x2="208.37" y2="318.80"/>
<line x1="208.37" y1="477.50" x2="208.37" y2="476.20"/>
<line x1="220.91" y1="17.50" x2="220.91" y2="21.70"/>
<line x1="220.91" y1="317.50" x2="220.91" y2="313.30"/>
<line x1="220.91" y1="317.50" x2="220.91" y2="319.90"/>
<line x1="220.91" y1="477.50" x2="220.91" y2="475.10"/>
<line x1="233.45" y1="17.50" x2="233.45" y2="19.60"/>
<line x1="233.45" y1="317.50" x2="233.45" y2="315.40"/>
<line x1="233.45" y1="317.50" x2="233.45" y2="318.80"/>
<line x1="233.45" y1="477.50" x2="233.45" y2="476.20"/>
<line x1="246.00" y1="17.50" x2="246.00" y2="25.80"/>
<line x1="246.00" y1="317.50" x2="246.00" y2="309.20"/>
<line x1="246.00" y1="317.50" x2="246.00" y2="322.90"/>
<line x1="246.00" y1="477.50" x2="246.00" y2="473.00"/>
<line x1="258.55" y1="17.50" x2="258.55" y2="19.60"/>
<line x1="258.55" y1="317.50" x2="258.55" y2="315.40"/>
<line x1="258.55" y1="317.50" x2="258.55" y2="318.80"/>
<line x1="258.55" y1="477.50" x2="258.55" y2="476.20"/>
<line x1="271.09" y1="17.50" x2="271.09" y2="21.70"/>
<line x1="271.09" y1="317.50" x2="271.09" y2="313.30"/>
<line x1="271.09" y1="317.50" x2="271.09" y2="319.90"/>
<line x1="271.09" y1="477.50" x2="271.09" y2="475.10"/>
<line x1="283.63" y1="17.50" x2="283.63" y2="19.60"/>
<line x1="283.63" y1="317.50" x2="283.63" y2="315.40"/>
<line x1="283.63" y1="317.50" x2="283.63" y2="318.80"/>
<line x1="283.63" y1="477.50" x2="283.63" y2="476.20"/>
<line x1="296.18" y1="17.50" x2="296.18" y2="21.70"/>
<line x1="296.18" y1="317.50" x2="296.18" y2="313.30"/>
<line x1="296.18" y1="317.50" x2="296.18" y2="319.90"/>
<line x1="296.18" y1="477.50" x2="296.18" y2="475.10"/>
<line x1="308.73" y1="17.50" x2="308.73" y2="19.60"/>
<line x1="308.73" y1="317.50" x2="308.73" y2="315.40"/>
<line x1="308.73" y1="317.50" x2="308.73" y2="318.80"/>
<line x1="308.73" y1="477.50" x2="308.73" y2="476.20"/>
<line x1="321.27" y1="17.50" x2="321.27" y2="21.70"/>
<line x1="321.27" y1="317.50" x2="321.27" y2="313.30"/>
<line x1="321.27" y1="317.50" x2="321.27" y2="319.90"/>
<line x1="321.27" y1="477.50" x2="321.27" y2="475.10"/>
<line x1="333.81" y1="17.50" x2="333.81" y2="19.60"/>
<line x1="333.81" y1="317.50" x2="333.81" y2="315.40"/>
<line x1="333.81" y1="317.50" x2="333.81" y2="318.80"/>
<line x1="333.81" y1="477.50" x2="333.81" y2="476.20"/>
<line x1="346.36" y1="17.50" x2="346.36" y2="21.70"/>
<line x1="346.36" y1="317.50" x2="346.36" y2="313.30"/>
<line x1="346.36" y1="317.50" x2="346.36" y2="319.90"/>
<line x1="346.36" y1="477.50" x2="346.36" y2="475.10"/>
<line x1="358.90" y1="17.50" x2="358.90" y2="19.60"/>
<line x1="358.90" y1="317.50" x2="358.90" y2="315.40"/>
<line x1="358.90" y1="317.50" x2="358.90" y2="318.80"/>
<line x1="358.90" y1="477.50" x2="358.90" y2="476.20"/>
<line x1="45.50" y1="458.50" x2="52.50" y2="458.50"/>
<line x1="371.00" y1="458.50" x2="364.00" y2="458.50"/>
<line x1="45.50" y1="442.52" x2="50.50" y2="442.52"/>
<line x1="371.00" y1="442.52" x2="366.00" y2="442.52"/>
<line x1="45.50" y1="429.01" x2="50.50" y2="429.01"/>
<line x1="371.00" y1="429.01" x2="366.00" y2="429.01"/>
<line x1="45.50" y1="417.31" x2="50.50" y2="417.31"/>
<line x1="371.00" y1="417.31" x2="366.00" y2="417.31"/>
<line x1="45.50" y1="406.98" x2="50.50" y2="406.98"/>
<line x1="371.00" y1="406.98" x2="366.00" y2="406.98"/>
<line x1="45.50" y1="397.75" x2="52.50" y2="397.75"/>
<line x1="371.00" y1="397.75" x2="364.00" y2="397.75"/>
<line x1="45.50" y1="389.40" x2="50.50" y2="389.40"/>
<line x1="371.00" y1="389.40" x2="366.00" y2="389.40"/>
<line x1="45.50" y1="381.77" x2="50.50" y2="381.77"/>
<line x1="371.00" y1="381.77" x2="366.00" y2="381.77"/>
<line x1="45.50" y1="374.76" x2="50.50" y2="374.76"/>
<line x1="371.00" y1="374.76" x2="366.00" y2="374.76"/>
<line x1="45.50" y1="368.26" x2="50.50" y2="368.26"/>
<line x1="371.00" y1="368.26" x2="366.00" y2="368.26"/>
<line x1="45.50" y1="362.21" x2="50.50" y2="362.21"/>
<line x1="371.00" y1="362.21" x2="366.00" y2="362.21"/>
<line x1="45.50" y1="356.56" x2="50.50" y2="356.56"/>
<line x1="371.00" y1="356.56" x2="366.00" y2="356.56"/>
<line x1="45.50" y1="351.24" x2="50.50" y2="351.24"/>
<line x1="371.00" y1="351.24" x2="366.00" y2="351.24"/>
<line x1="45.50" y1="346.23" x2="50.50" y2="346.23"/>
<line x1="371.00" y1="346.23" x2="366.00" y2="346.23"/>
<line x1="45.50" y1="341.50" x2="50.50" y2="341.50"/>
<line x1="371.00" y1="341.50" x2="366.00" y2="341.50"/>
<line x1="45.50" y1="337.00" x2="52.50" y2="337.00"/>
<line x1="371.00" y1="337.00" x2="364.00" y2="337.00"/>
<line x1="45.50" y1="332.72" x2="50.50" y2="332.72"/>
<line x1="371.00" y1="332.72" x2="366.00" y2="332.72"/>
<line x1="45.50" y1="328.65" x2="50.50" y2="328.65"/>
<line x1="371.00" y1="328.65" x2="366.00" y2="328.65"/>
<line x1="45.50" y1="324.75" x2="50.50" y2="324.75"/>
<line x1="371.00" y1="324.75" x2="366.00" y2="324.75"/>
<line x1="45.50" y1="321.02" x2="50.50" y2="321.02"/>
<line x1="371.00" y1="321.02" x2="366.00" y2="321.02"/>
<line x1="45.50" y1="317.44" x2="50.50" y2="317.44"/>
<line x1="371.00" y1="317.44" x2="366.00" y2="317.44"/>
<rect x="45.5" y="17.5" width="325.50" height="300.00"/>
<rect x="45.5" y="317.5" width="325.50" height="160.00"/>
<line x1="45.5" y1="478.3" x2="371.0" y2="478.3" stroke-width="0.8"/>
</g>
<g font-size="11" fill="#000" text-anchor="end">
<text x="40" y="54.2">10</text>
<text x="40" y="109.5">1</text>
</g>
<text x="40" y="166.3" font-size="11" text-anchor="end">10<tspan font-size="6.7" dx="0.6" dy="-5.3">&#8211;1</tspan></text>
<text x="40" y="221.7" font-size="11" text-anchor="end">10<tspan font-size="6.7" dx="0.6" dy="-5.3">&#8211;2</tspan></text>
<text x="40" y="277.1" font-size="11" text-anchor="end">10<tspan font-size="6.7" dx="0.6" dy="-5.3">&#8211;3</tspan></text>
<g font-size="11" fill="#000" text-anchor="end">
<text x="38.6" y="340.7">2</text>
<text x="39" y="402.2">1</text>
<text x="38.6" y="461.8" font-size="11.4">0.5</text>
</g>
<g font-size="11" fill="#000" text-anchor="middle">
<text x="121.0" y="489.4">1</text>
<text x="246.4" y="489.4">2</text>
<text x="371.8" y="489.4">3</text>
</g>
<text x="51.4" y="13.6" font-size="12">13000 GeV pp</text>
<text x="365.5" y="13.7" font-size="12" text-anchor="end">Z+Jet</text>
<text id="title" x="76.7" y="42.4" font-size="12">Transverse region, 60 &lt; p<tspan font-size="8" dx="-2.7" dy="-6.1">Z</tspan><tspan font-size="8" dx="-4.9" dy="12.7">T</tspan><tspan dx="1.5" dy="-6.6"> &lt; 80 [GeV], high thrust</tspan></text>
<text id="ylab" transform="translate(14.8,166.8) rotate(-90)" font-size="12">1/N<tspan font-size="8" dy="4.5">ev</tspan><tspan dy="-4.5"> dN</tspan><tspan font-size="8" dy="4.5">ev</tspan><tspan dy="-4.5">/d mean p</tspan><tspan font-size="8" dy="6.5">T</tspan><tspan dy="-6.5"> [GeV]</tspan><tspan font-size="8" dx="-0.8" dy="-6">1</tspan></text>
<text transform="translate(18.5,427.3) rotate(-90)" font-size="9">Ratio to ATLAS</text>
<text id="xlab" x="290.2" y="500.9" font-size="12">Mean p<tspan font-size="8" dy="5.2">T</tspan><tspan dy="-5.2">/d&#951; d&#981;</tspan></text>
<text transform="translate(380.3,127.4) rotate(-90)" font-size="9.35" fill="#808080">Rivet 4.1.0, &#8805; 300k events</text>
<text transform="translate(380.3,314) rotate(-90)" font-size="9.35" fill="#808080">mcplots.cern.ch [arXiv:2401.10621]</text>
<text x="163" y="302" font-size="7.8" fill="#a0a0a0" letter-spacing="0.07">(ATLAS_2019_I1736531)</text>
<rect x="73.60" y="208.00" width="5.8" height="5.8" fill="#000"/>
<text x="94.3" y="214.4" font-size="9" letter-spacing="0.18">ATLAS</text>
<line x1="64" y1="223.9" x2="89" y2="223.9" stroke="#c0661e" stroke-width="1" stroke-dasharray="3,2"/>
<circle cx="76.50" cy="223.90" r="2.8" fill="none" stroke="#c0661e" stroke-width="1"/>
<text x="94.3" y="227.4" font-size="9" letter-spacing="0.18">Herwig++ 2.7.1 default</text>
<line x1="64" y1="236.9" x2="89" y2="236.9" stroke="#4aa02c" stroke-width="1" stroke-dasharray="3,2"/>
<rect x="73.65" y="234.05" width="5.7" height="5.7" fill="none" stroke="#4aa02c" stroke-width="1"/>
<text x="94.3" y="240.4" font-size="9" letter-spacing="0.18">Herwig 7.2.1 default</text>
<line x1="64" y1="249.8" x2="89" y2="249.8" stroke="#0000ff" stroke-width="1.15"/>
<path d="M76.50,246.50L79.60,252.30L73.40,252.30Z" fill="#0000ff"/>
<text x="94.3" y="253.3" font-size="9" letter-spacing="0.18">Pythia 8.315 default</text>
<line x1="64" y1="262.8" x2="89" y2="262.8" stroke="#1a9cc0" stroke-width="1" stroke-dasharray="4,2,1,2"/>
<path d="M76.50,266.10L79.60,260.30L73.40,260.30Z" fill="#1a9cc0"/>
<text x="94.3" y="266.3" font-size="9" letter-spacing="0.18">Pythia 8.315 vincia-default</text>
<line x1="64" y1="275.8" x2="89" y2="275.8" stroke="#ff0000" stroke-width="1.1" stroke-dasharray="1,1.2"/>
<path d="M76.50,272.40L78.75,275.80L76.50,279.20L74.25,275.80Z" fill="#ff0000"/>
<text x="94.3" y="279.3" font-size="9" letter-spacing="0.18">Sherpa 1.4.5 default</text>
</svg></body></html>
